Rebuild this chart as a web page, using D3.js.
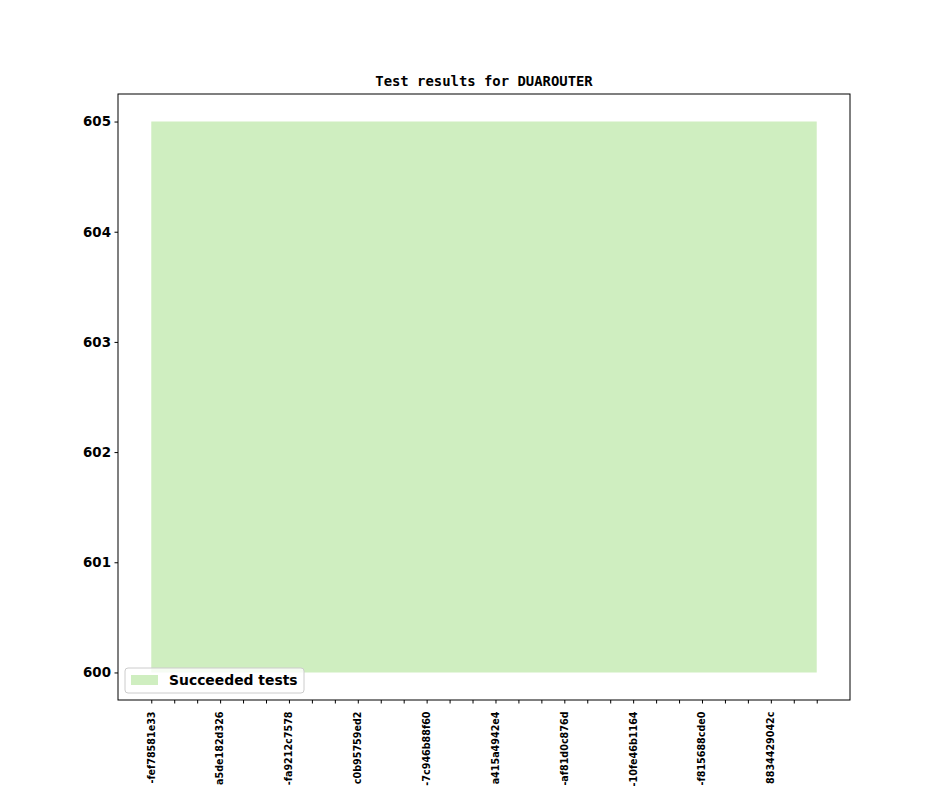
<!DOCTYPE html>
<html>
<head>
<meta charset="utf-8">
<script src="https://cdn.jsdelivr.net/npm/d3@7"></script>
<style>
  body { margin: 0; background: #fff; }
  svg { display: block; }
</style>
</head>
<body>
<div id="chart"></div>
<script>
// chart data
const chartTitle = "Test results for DUAROUTER";
const seriesName = "Succeeded tests";
const commitLabels = ["-fef78581e33", "a5de182d326", "-fa9212c7578", "c0b95759ed2", "-7c946b88f60",
  "a415a4942e4", "-af81d0c876d", "-10fe46b1164", "-f815688cde0", "8834429042c"];
const labelEvery = 3;
const succeeded = [605, 605, 605, 605, 605, 605, 605, 605, 605, 605,
  605, 605, 605, 605, 605, 605, 605, 605, 605, 605,
  605, 605, 605, 605, 605, 605, 605, 605, 605, 605];
const baseline = 600;
const yTicks = [600, 601, 602, 603, 604, 605];

// svg size and plot box
let svgWidth = 944;
let svgHeight = 787;
let margin = { top: 94, right: 94, bottom: 87, left: 118 };
let width = svgWidth - margin.left - margin.right;
let height = svgHeight - margin.top - margin.bottom;

let svg = d3.select("#chart")
  .append("svg")
  .attr("width", svgWidth)
  .attr("height", svgHeight);

let chartGroup = svg.append("g")
  .attr("transform", `translate(${margin.left}, ${margin.top})`);

// scales with matplotlib-like 5% margins
let n = succeeded.length;
let xPad = (n - 1) * 0.05;
let xScale = d3.scaleLinear()
  .domain([-xPad, n - 1 + xPad])
  .range([0, width]);

let yMin = baseline, yMax = d3.max(succeeded);
let yPad = (yMax - yMin) * 0.05;
let yScale = d3.scaleLinear()
  .domain([yMin - yPad, yMax + yPad])
  .range([height, 0]);

// filled area
let area = d3.area()
  .x((d, i) => xScale(i))
  .y0(yScale(baseline))
  .y1(d => yScale(d));

chartGroup.append("path")
  .datum(succeeded)
  .attr("d", area)
  .attr("fill", "#cfeec0");

// axes
let bottomAxis = d3.axisBottom(xScale)
  .tickValues(d3.range(n))
  .tickSize(3.5)
  .tickFormat("");
let leftAxis = d3.axisLeft(yScale)
  .tickValues(yTicks)
  .tickSize(3.5)
  .tickPadding(3.5)
  .tickFormat(d3.format("d"));

let xAxisG = chartGroup.append("g")
  .attr("transform", `translate(0, ${height})`)
  .call(bottomAxis);
xAxisG.select(".domain").remove();

let yAxisG = chartGroup.append("g").call(leftAxis);
yAxisG.select(".domain").remove();
yAxisG.selectAll("text")
  .style("font-family", "DejaVu Sans")
  .style("font-weight", "bold")
  .style("font-size", "13.4px")
  .attr("fill", "#000");

[xAxisG, yAxisG].forEach(g => g.selectAll("line").attr("stroke", "#000").attr("stroke-width", 1));

// rotated x tick labels, every third commit
chartGroup.selectAll(".xlabel")
  .data(commitLabels)
  .enter()
  .append("text")
  .attr("class", "xlabel")
  .attr("transform", (d, i) => `translate(${xScale(i * labelEvery)}, ${height + 11.5}) rotate(-90)`)
  .attr("dy", "0.35em")
  .style("text-anchor", "end")
  .style("font-family", "DejaVu Sans")
  .style("font-weight", "bold")
  .style("font-size", "9.6px")
  .text(d => d);

// frame
chartGroup.append("rect")
  .attr("width", width)
  .attr("height", height)
  .attr("fill", "none")
  .attr("stroke", "#000")
  .attr("stroke-width", 1);

// title
svg.append("text")
  .attr("x", margin.left + width / 2)
  .attr("y", margin.top - 8)
  .style("text-anchor", "middle")
  .style("font-family", "DejaVu Sans Mono")
  .style("font-weight", "bold")
  .style("font-size", "13.9px")
  .text(chartTitle);

// legend
let legend = chartGroup.append("g")
  .attr("transform", `translate(7, ${height - 32})`);
legend.append("rect")
  .attr("width", 179)
  .attr("height", 25)
  .attr("rx", 3)
  .attr("fill", "#fff")
  .attr("fill-opacity", 0.8)
  .attr("stroke", "#cccccc")
  .attr("stroke-width", 1);
legend.append("rect")
  .attr("x", 6)
  .attr("y", 7)
  .attr("width", 27)
  .attr("height", 10)
  .attr("fill", "#cfeec0");
legend.append("text")
  .attr("x", 44)
  .attr("y", 17)
  .style("font-family", "DejaVu Sans")
  .style("font-weight", "bold")
  .style("font-size", "13.9px")
  .text(seriesName);
</script>
</body>
</html>
